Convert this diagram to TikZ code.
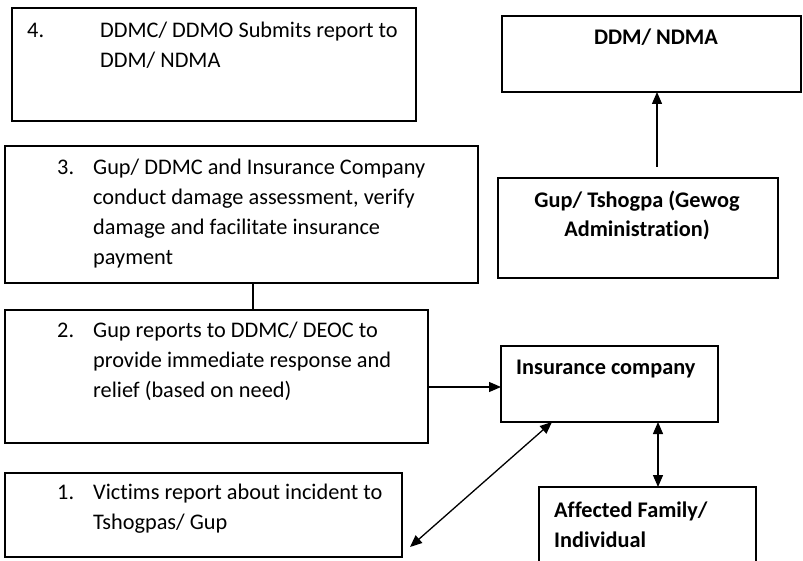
\documentclass[tikz,border=0pt]{standalone}
\usepackage{fontspec}
\setmainfont{Carlito}[Ligatures=NoCommon]
\usetikzlibrary{arrows.meta}
\begin{document}
\begin{tikzpicture}[x=1pt, y=-1pt,
  box/.style={draw, line width=1.3pt, inner sep=0pt, outer sep=0pt, anchor=north west},
  txt/.style={anchor=base west, inner sep=0pt, font=\fontsize{22.3}{30}\selectfont},
  btxt/.style={anchor=base west, inner sep=0pt, font=\fontsize{22.3}{30}\selectfont\bfseries},
  link/.style={line width=1.3pt},
  head/.style={-{Triangle[length=12pt,width=10pt]}},
  heads/.style={{Triangle[length=12pt,width=10pt]}-{Triangle[length=12pt,width=10pt]}}]
\useasboundingbox (0,0) rectangle (803,561);

% step 4
\node[box, minimum width=404pt, minimum height=113pt] (s4) at (12,8) {};
\node[txt] (s4n) at (27,38) {4.};
\node[txt] (s4a) at (100,38) {DDMC/ DDMO Submits report to};
\node[txt] (s4b) at (100,68) {DDM/ NDMA};

% DDM / NDMA
\node[box, minimum width=299pt, minimum height=76pt] (ndma) at (502,16) {};
\node[btxt, anchor=base] (ndmat) at (656,45) {DDM/ NDMA};

% Gewog administration
\node[box, minimum width=280pt, minimum height=100pt] (gup) at (498,178) {};
\node[btxt, anchor=base] (gupa) at (637,208) {Gup/ Tshogpa (Gewog};
\node[btxt, anchor=base] (gupb) at (637,237) {Administration)};

% step 3
\node[box, minimum width=473pt, minimum height=137pt] (s3) at (5,146) {};
\node[txt] (s3n) at (57,175) {3.};
\node[txt] (s3a) at (93,175) {Gup/ DDMC and Insurance Company};
\node[txt] (s3b) at (93,205) {conduct damage assessment, verify};
\node[txt] (s3c) at (93,235) {damage and facilitate insurance};
\node[txt] (s3d) at (93,265) {payment};

% step 2
\node[box, minimum width=423pt, minimum height=133pt] (s2) at (5,310) {};
\node[txt] (s2n) at (57,337) {2.};
\node[txt] (s2a) at (93,337) {Gup reports to DDMC/ DEOC to};
\node[txt] (s2b) at (93,367) {provide immediate response and};
\node[txt] (s2c) at (93,397) {relief (based on need)};

% insurance company
\node[box, minimum width=217pt, minimum height=76pt] (ins) at (501,346) {};
\node[btxt] (inst) at (516,374) {Insurance company};

% affected family
\node[box, minimum width=217pt, minimum height=90pt] (aff) at (539,487) {};
\node[btxt] (affa) at (554,517) {Affected Family/};
\node[btxt] (affb) at (554,547) {Individual};

% step 1
\node[box, minimum width=397pt, minimum height=84pt] (s1) at (5,473) {};
\node[txt] (s1n) at (57,499) {1.};
\node[txt] (s1a) at (93,499) {Victims report about incident to};
\node[txt] (s1b) at (93,529) {Tshogpas/ Gup};

% connectors
\coordinate (gupup) at (657,167);
\draw[link, head] (gupup) -- (gupup |- ndma.south);

\coordinate (c32) at (253,0);
\draw[link] (c32 |- s3.south) -- (c32 |- s2.north);

\coordinate (c2i) at (0,387);
\draw[link, head] (c2i -| s2.east) -- (c2i -| ins.west);

\coordinate (cia) at (658,0);
\draw[link, heads] (cia |- ins.south) -- (cia |- aff.north);

\coordinate (diagtop) at (552,0);
\coordinate (diagend) at (410,547);
\draw[link, heads] (diagend) -- (diagtop |- ins.south);
\end{tikzpicture}
\end{document}
